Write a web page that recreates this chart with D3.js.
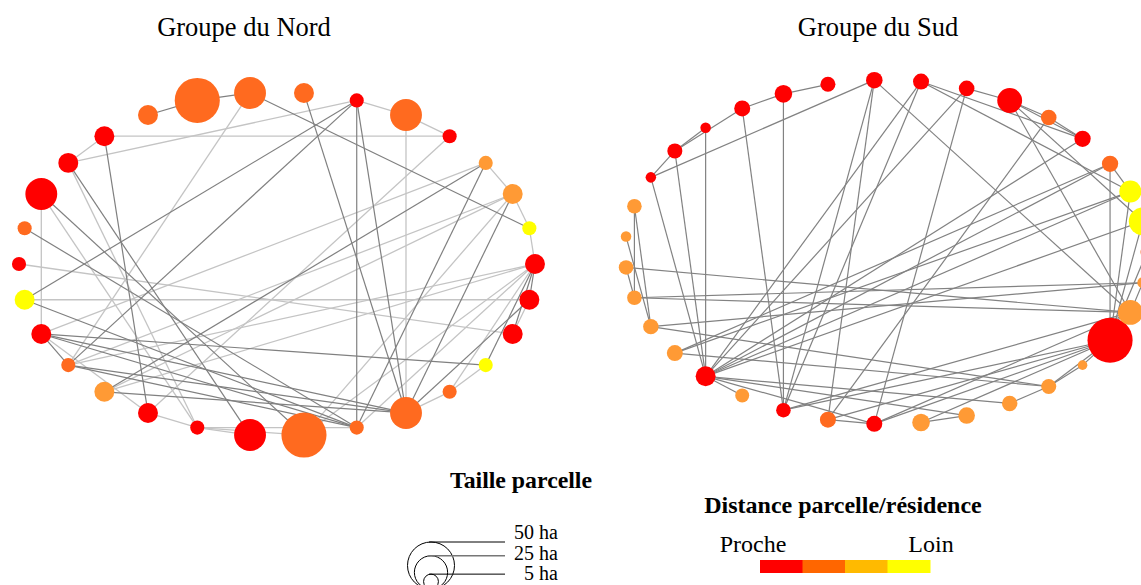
<!DOCTYPE html>
<html><head><meta charset="utf-8">
<script src="https://cdn.jsdelivr.net/npm/d3@7"></script>
<style>body{margin:0;background:#fff}svg{display:block}text{font-family:"Liberation Serif","Times New Roman",serif;fill:#000}</style>
</head><body>
<script>
// ---- data ----
const titles = ["Groupe du Nord", "Groupe du Sud"];
// North group: nodes in circular-layout order (parcel size in ha, distance class 1=near..4=far)
const northSize = [9,4.5,9,4.5,4.5,23,4.5,9,23,46,9,9,9,23,4.5,4.5,9,9,4.5,9,9,4.5,23,46,4.5,23,4.5,4.5,9,9];
const northDist = [1,4,3,3,1,2,1,2,2,2,2,1,1,1,2,1,4,1,2,3,1,1,1,2,2,2,2,4,1,1];
const northStrong = [[10,9],[9,8],[8,1],[6,16],[6,18],[6,24],[6,25],[7,25],[3,19],[3,24],[2,25],[11,20],[12,22],[14,24],[13,23],[17,27],[17,25],[17,18],[18,25],[19,25],[16,24],[17,24],[18,24],[0,29],[0,28],[0,27],[29,25]];
const northWeak = [[11,4],[11,12],[12,6],[6,5],[5,4],[5,25],[8,18],[4,20],[3,2],[2,1],[1,0],[29,28],[15,28],[16,29],[2,18],[2,19],[2,23],[13,17],[13,21],[12,21],[20,21],[21,22],[21,24],[21,23],[0,26],[27,26],[26,25],[0,19],[0,18],[0,23],[17,20],[17,3],[0,24]];
// South group
const southSize = [3.8,17.7,11,6,6,5.5,14,5.5,5.8,6.2,5.1,7,5.8,2.5,5.1,2.5,4.8,2.5,4.8,4.8,5.4,5.8,9,4.4,4.8,5.8,5.8,7,6.2,5.4,5.1,2.1,46,14,2.7];
const southDist = [2,4,4,2,1,2,1,1,1,1,1,1,1,1,1,1,3,3,3,3,3,3,1,3,1,2,1,3,3,3,3,3,1,3,3];
const southLinks = [[15,14],[14,13],[14,12],[12,11],[11,10],[15,9],[15,22],[14,22],[13,22],[12,24],[11,24],[9,24],[9,25],[8,22],[7,22],[8,24],[7,26],[8,4],[7,6],[6,5],[6,4],[5,4],[9,33],[6,33],[6,1],[5,25],[4,22],[3,21],[3,32],[3,2],[2,32],[8,2],[1,22],[1,32],[22,3],[22,2],[21,2],[18,33],[19,34],[19,33],[18,19],[16,20],[17,20],[20,34],[20,30],[21,30],[22,23],[22,29],[22,28],[22,26],[24,33],[24,32],[25,26],[25,32],[26,32],[26,33],[27,32],[27,28],[29,30],[30,31],[31,32],[30,32],[33,32],[34,33],[0,32],[16,19]];
// Legends
const sizeLegendTitle = "Taille parcelle";
const sizeLegendValues = [50, 25, 5];
const sizeLegendLabels = ["50 ha", "25 ha", "5 ha"];
const distLegendTitle = "Distance parcelle/résidence";
const distLegendLabels = ["Proche", "Loin"];
const distClasses = [1,2,3,4];

// ---- styles ----
const nodeColors = {1:"#ff0000",2:"#ff6a1f",3:"#ff9a35",4:"#ffff00"};
const legendColors = ["#ff0000","#ff6600","#ffba00","#ffff00"];
const W = 1141, H = 585;
const svg = d3.select("body").append("svg").attr("width", W).attr("height", H);

const rScale = d3.scaleSqrt().domain([0, 50]).range([0, 23.5]);

function drawNetwork(g, sizes, dists, linkSets, box) {
  const n = sizes.length;
  const angle = d3.scaleLinear().domain([0, n]).range([0, 2 * Math.PI]);
  const x = d3.scaleLinear().domain([-1, 1]).range([box.cx - box.rx, box.cx + box.rx]);
  const y = d3.scaleLinear().domain([-1, 1]).range([box.cy + box.ry, box.cy - box.ry]);
  const nodes = sizes.map((s, i) => ({ i, s, d: dists[i], x: x(Math.cos(angle(i))), y: y(Math.sin(angle(i))) }));
  linkSets.forEach(ls => {
    g.append("g").selectAll("line").data(ls.links).join("line")
      .attr("x1", d => nodes[d[0]].x).attr("y1", d => nodes[d[0]].y)
      .attr("x2", d => nodes[d[1]].x).attr("y2", d => nodes[d[1]].y)
      .attr("stroke", ls.color).attr("stroke-width", ls.width);
  });
  g.append("g").selectAll("circle").data(nodes).join("circle")
    .attr("cx", d => d.x).attr("cy", d => d.y).attr("r", d => rScale(d.s))
    .attr("fill", d => nodeColors[d.d]);
}

drawNetwork(svg.append("g"), northSize, northDist,
  [{links: northWeak, color: "#c4c4c4", width: 1.3}, {links: northStrong, color: "#808080", width: 1.2}],
  {cx: 277, cy: 264, rx: 258, ry: 172});
drawNetwork(svg.append("g"), southSize, southDist,
  [{links: southLinks, color: "#828282", width: 1.2}],
  {cx: 886, cy: 252, rx: 261, ry: 172});

// titles
svg.selectAll("text.title").data(titles).join("text").attr("class", "title")
  .attr("x", (d, i) => [244, 878][i]).attr("y", 36).attr("text-anchor", "middle")
  .style("font-size", "26.5px").text(d => d);

// size legend
svg.append("text").attr("x", 521).attr("y", 488).attr("text-anchor", "middle")
  .style("font-size", "23.8px").style("font-weight", "bold").text(sizeLegendTitle);
const lg = svg.append("g");
const baseY = 589, lcx = 431;
lg.selectAll("circle").data(sizeLegendValues).join("circle")
  .attr("cx", lcx).attr("cy", d => baseY - rScale(d)).attr("r", d => rScale(d))
  .attr("fill", "none").attr("stroke", "#000").attr("stroke-width", 1);
lg.selectAll("line").data(sizeLegendValues).join("line")
  .attr("x1", lcx - 2).attr("x2", 505)
  .attr("y1", d => baseY - 2 * rScale(d)).attr("y2", d => baseY - 2 * rScale(d))
  .attr("stroke", (d, i) => i === 1 ? "#777" : "#000").attr("stroke-width", (d, i) => i === 1 ? 1.6 : 1);
const labelY = d3.scalePoint().domain(sizeLegendLabels).range([539, 580]);
lg.selectAll("text").data(sizeLegendLabels).join("text")
  .attr("x", 558).attr("y", d => labelY(d))
  .attr("text-anchor", "end").style("font-size", "20px").text(d => d);

// distance legend
svg.append("text").attr("x", 843).attr("y", 513).attr("text-anchor", "middle")
  .style("font-size", "24px").style("font-weight", "bold").text(distLegendTitle);
svg.selectAll("text.dl").data(distLegendLabels).join("text").attr("class", "dl")
  .attr("x", (d, i) => [753, 931][i]).attr("y", 552).attr("text-anchor", "middle")
  .style("font-size", "24px").text(d => d);
const bx = d3.scaleBand().domain(distClasses).range([760, 930]);
svg.append("g").selectAll("rect").data(distClasses).join("rect")
  .attr("x", d => bx(d)).attr("y", 560).attr("width", bx.bandwidth() + 0.5).attr("height", 13)
  .attr("fill", (d, i) => legendColors[i]);
</script>
</body></html>
